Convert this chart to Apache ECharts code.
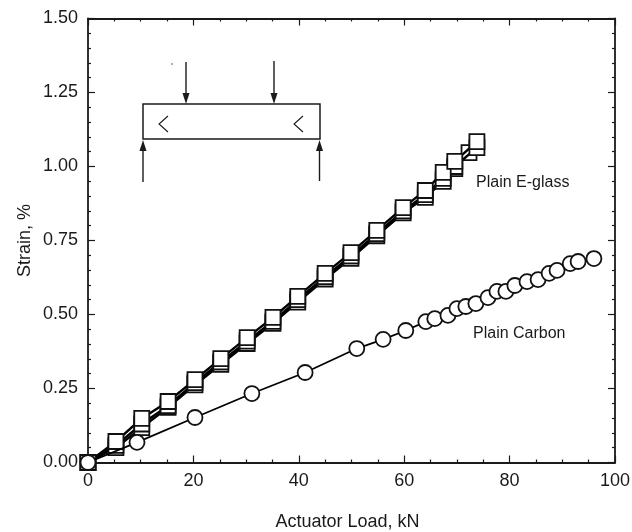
<!DOCTYPE html>
<html><head><meta charset="utf-8">
<style>html,body{margin:0;padding:0;background:#fff}#c{width:632px;height:532px}</style>
<script src="https://cdn.jsdelivr.net/npm/echarts@6/dist/echarts.min.js"></script>
</head><body><div id="c"></div>
<script>
const carbonLoad=[0,9.3,20.3,31.1,41.2,51,56,60.3,64.1,65.8,68.3,70,71.7,73.6,75.9,77.6,79.3,81,83.3,85.4,87.5,89,91.5,93,96];
const carbonStrain=[0,.068,.152,.233,.304,.385,.416,.446,.476,.486,.497,.52,.527,.537,.557,.578,.578,.598,.611,.618,.639,.649,.672,.679,.689];
const glassLoadA=[0,5.3,10.2,15.2,20.3,25.2,30.2,35.1,39.8,45,49.9,54.8,59.8,64,67.4,69.6,73.8];
const glassStrainA=[0,.071,.149,.206,.28,.351,.422,.49,.561,.639,.709,.784,.861,.919,.98,1.017,1.084];
const glassLoadB=[0,5.3,10.2,15.2,20.3,25.2,30.2,35.1,39.8,45,49.9,54.8,59.8,64,67.4,69.6,72.3];
const glassStrainB=[0,.05,.118,.186,.262,.332,.402,.47,.542,.62,.69,.766,.843,.896,.95,.993,1.047];
const glassLoadC=[0,5.3,10.2,15.2,20.3,25.2,30.2,35.1,39.8,45,49.9,54.8,59.8,64,67.4,69.6,73.8];
const glassStrainC=[0,.058,.13,.192,.27,.34,.41,.477,.55,.628,.698,.773,.85,.905,.96,1,1.064];
const pair=(a,b)=>a.map((v,i)=>[v,b[i]]);
const font='"Liberation Sans",Arial,sans-serif';
const INK='#1a1a1a';
const sq=(name,x,y,z)=>({name,type:'line',data:pair(x,y),z,symbol:'rect',symbolSize:15,
  lineStyle:{color:'#000',width:2.4},itemStyle:{color:'#fff',borderColor:'#111',borderWidth:1.8},showSymbol:true});
const chart=echarts.init(document.getElementById('c'),null,{renderer:'canvas'});
const axisCommon={axisLine:{onZero:false,lineStyle:{color:INK,width:1.8}},
  axisTick:{inside:true,length:7,lineStyle:{color:INK,width:1.2}},
  splitLine:{show:false},minorSplitLine:{show:false}};
const xMinor={show:true,length:3,splitNumber:4,lineStyle:{color:INK,width:1.2}};
const yMinor={show:true,length:3,splitNumber:5,lineStyle:{color:INK,width:1.2}};
chart.setOption({
  animation:false,backgroundColor:'#fff',
  grid:[{left:88,right:17,top:18.5,bottom:69.5,show:false,outerBoundsMode:'none'}],
  xAxis:[
   {type:'value',min:0,max:100,interval:20,name:'Actuator Load, kN',nameLocation:'middle',nameGap:51,nameMoveOverlap:false,
    nameTextStyle:{fontFamily:font,fontSize:18,color:INK,padding:[0,8,0,0]},
    axisLabel:{fontFamily:font,fontSize:18,color:INK,margin:10},...axisCommon,minorTick:xMinor},
   {type:'value',position:'top',min:0,max:100,interval:20,axisLabel:{show:false},...axisCommon,minorTick:xMinor}
  ],
  yAxis:[
   {type:'value',min:0,max:1.5,interval:.25,name:'Strain, %',nameLocation:'middle',nameGap:54,nameMoveOverlap:false,
    nameTextStyle:{fontFamily:font,fontSize:18,color:INK},
    axisLabel:{fontFamily:font,fontSize:18,color:INK,margin:10,formatter:v=>v.toFixed(2)},...axisCommon,minorTick:yMinor},
   {type:'value',position:'right',min:0,max:1.5,interval:.25,axisLabel:{show:false},...axisCommon,minorTick:yMinor}
  ],
  series:[
   sq('Plain E-glass B',glassLoadB,glassStrainB,3),
   sq('Plain E-glass C',glassLoadC,glassStrainC,4),
   sq('Plain E-glass A',glassLoadA,glassStrainA,5),
   {name:'Plain Carbon',type:'line',data:pair(carbonLoad,carbonStrain),z:6,symbol:'circle',symbolSize:15,
    lineStyle:{color:'#000',width:1.8},itemStyle:{color:'#fff',borderColor:'#111',borderWidth:1.8}}
  ],
  graphic:[
   {type:'text',left:476,top:175,style:{text:'Plain E-glass',font:'16px '+font,fill:INK}},
   {type:'text',left:473,top:326,style:{text:'Plain Carbon',font:'16px '+font,fill:INK}},
   {type:'rect',shape:{x:143,y:104,width:177,height:35},style:{fill:'none',stroke:INK,lineWidth:1.5}},
   {type:'polyline',shape:{points:[[168,116],[159,124],[168,132]]},style:{fill:'none',stroke:INK,lineWidth:1.1}},
   {type:'polyline',shape:{points:[[303,116],[294,124],[303,132]]},style:{fill:'none',stroke:INK,lineWidth:1.1}},
   {type:'line',shape:{x1:186,y1:62,x2:186,y2:95},style:{stroke:INK,lineWidth:1.4}},
   {type:'polygon',shape:{points:[[182.5,93],[189.5,93],[186,104]]},style:{fill:INK}},
   {type:'line',shape:{x1:274,y1:61,x2:274,y2:95},style:{stroke:INK,lineWidth:1.4}},
   {type:'polygon',shape:{points:[[270.5,93],[277.5,93],[274,104]]},style:{fill:INK}},
   {type:'line',shape:{x1:143,y1:150,x2:143,y2:182},style:{stroke:INK,lineWidth:1.4}},
   {type:'polygon',shape:{points:[[143,140],[139.5,151],[146.5,151]]},style:{fill:INK}},
   {type:'line',shape:{x1:319.5,y1:150,x2:319.5,y2:181},style:{stroke:INK,lineWidth:1.4}},
   {type:'polygon',shape:{points:[[319.5,140],[316,151],[323,151]]},style:{fill:INK}},
   {type:'circle',shape:{cx:172,cy:64,r:0.7},style:{fill:INK}}
  ]
});
</script></body></html>
